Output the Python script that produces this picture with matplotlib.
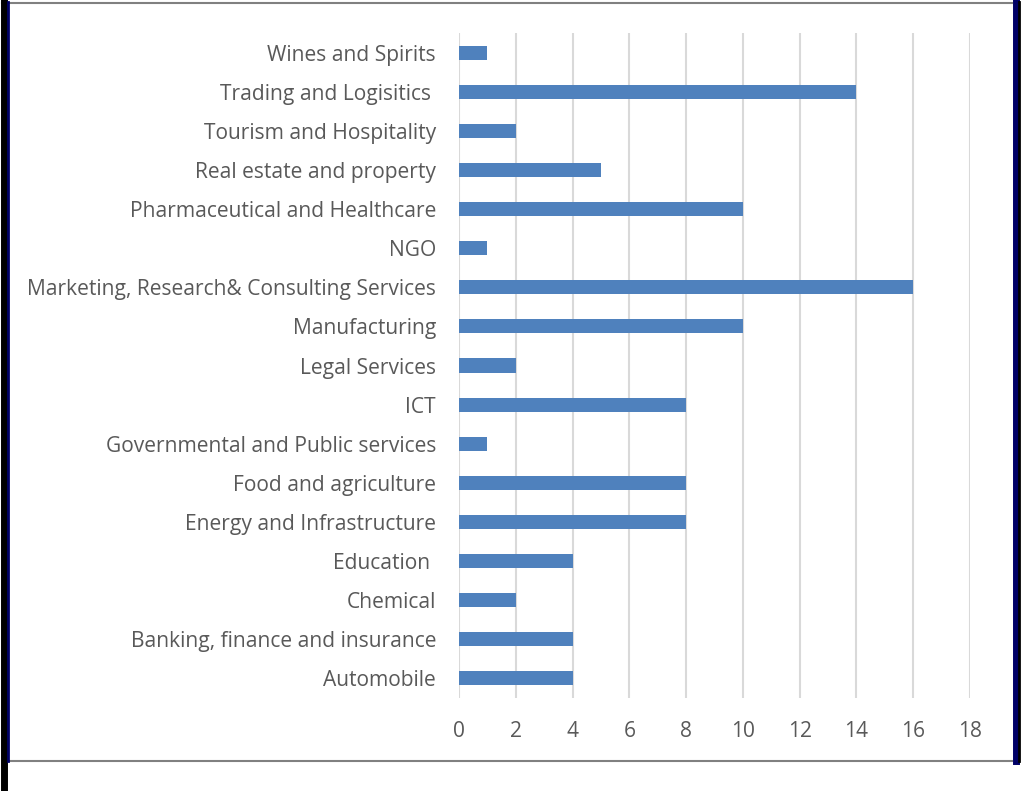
import matplotlib.pyplot as plt
from matplotlib.lines import Line2D

# sectors, bottom to top as drawn
sectors = ['Automobile', 'Banking, finance and insurance', 'Chemical', 'Education ',
           'Energy and Infrastructure', 'Food and agriculture',
           'Governmental and Public services', 'ICT', 'Legal Services', 'Manufacturing',
           'Marketing, Research& Consulting Services', 'NGO',
           'Pharmaceutical and Healthcare', 'Real estate and property',
           'Tourism and Hospitality', 'Trading and Logisitics ', 'Wines and Spirits']
counts = [4, 4, 2, 4, 8, 8, 1, 8, 2, 10, 16, 1, 10, 5, 2, 14, 1]
xticks = [0, 2, 4, 6, 8, 10, 12, 14, 16, 18]

plt.rcParams['font.family'] = ['Open Sans', 'DejaVu Sans']

fig = plt.figure(figsize=(10.22, 7.91), dpi=100)
ax = fig.add_axes([459 / 1022, 1 - 698 / 791, 511 / 1022, 665 / 791])

ax.barh(range(len(sectors)), counts, height=0.36, color='#4F81BD', zorder=3)
ax.set_ylim(-0.5, len(sectors) - 0.5)
ax.set_xlim(0, 18)
ax.set_xticks(xticks)
ax.set_yticks(range(len(sectors)))
ax.set_yticklabels(sectors)
ax.tick_params(axis='both', length=0, labelsize=15.1, colors='#595959')
ax.tick_params(axis='x', pad=16.5)
ax.tick_params(axis='y', pad=16.5)
ax.grid(axis='x', color='#D9D9D9', linewidth=1.5, zorder=0)
for s in ax.spines.values():
    s.set_visible(False)

# page frame around the chart
W, H = 1022, 791
def fl(x0, y0, x1, y1, c, w):
    fig.add_artist(Line2D([x0 / W, x1 / W], [1 - y0 / H, 1 - y1 / H], color=c, linewidth=w,
                          transform=fig.transFigure))

fl(2, 2.5, 1012, 2.5, '#808080', 1.5)
fl(4, 761, 1012, 761, '#808080', 1.5)
fl(3.5, 0, 3.5, 791, '#000000', 5)
fl(7.5, 2, 7.5, 761, '#000066', 2)
fl(1016, 2, 1016, 761, '#000066', 5)
fl(1019, 2, 1019, 761, '#000000', 2)

fig.savefig('out.png', dpi=100)
